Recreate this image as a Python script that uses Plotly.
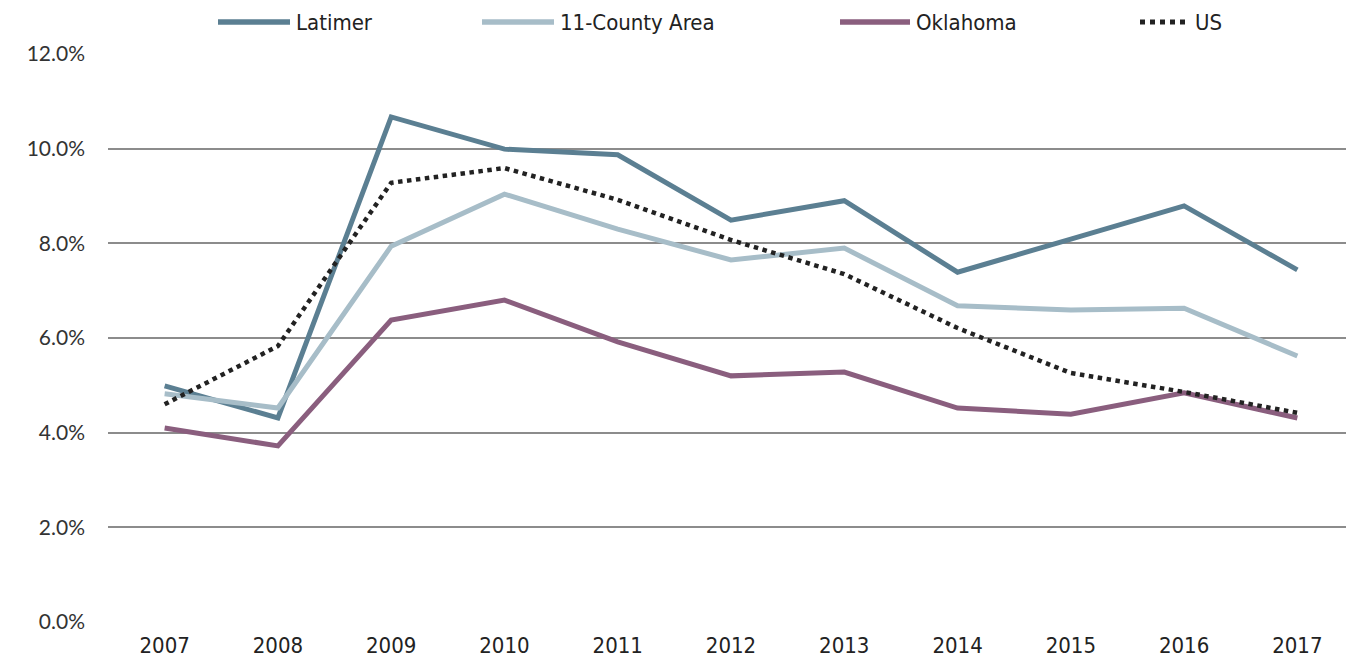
import plotly.graph_objects as go

years = ["2007", "2008", "2009", "2010", "2011", "2012", "2013", "2014", "2015", "2016", "2017"]
latimer = [4.99, 4.31, 10.67, 9.99, 9.87, 8.49, 8.90, 7.39, 8.09, 8.79, 7.44]
county11 = [4.82, 4.52, 7.94, 9.04, 8.30, 7.65, 7.90, 6.68, 6.59, 6.63, 5.62]
oklahoma = [4.10, 3.72, 6.38, 6.80, 5.92, 5.20, 5.28, 4.52, 4.39, 4.84, 4.31]
us = [4.60, 5.83, 9.28, 9.59, 8.92, 8.07, 7.35, 6.21, 5.26, 4.86, 4.42]
y_ticks = [0, 2, 4, 6, 8, 10, 12]
y_labels = ["0.0%", "2.0%", "4.0%", "6.0%", "8.0%", "10.0%", "12.0%"]

series = [
    ("Latimer", latimer, "#5b7f92", 5, "solid"),
    ("11-County Area", county11, "#a7bdc8", 5, "solid"),
    ("Oklahoma", oklahoma, "#8a5e7e", 5, "solid"),
    ("US", us, "#222222", 4.5, "dot"),
]

# page body has an 8px margin: compensate so the plot sits where the reference has it
OFF = 8
W, H = 1354 - OFF, 667 - OFF
ML, MR, MT, MB = 108 - OFF, 0, 54 - OFF, 45
PW, PH = W - ML - MR, H - MT - MB

fig = go.Figure()
for name, vals, color, width, dash in series:
    fig.add_trace(go.Scatter(x=years, y=vals, name=name, mode="lines",
                             line=dict(color=color, width=width, dash=dash),
                             showlegend=False))

# custom legend (line sample + label) in the top margin; positions in page pixels
legend_x = [218, 482, 840, 1140]
line_len = [72, 72, 70, 49]
ly = (667 - MB - 22) / PH
txt_font = "Futura, 'Century Gothic', 'DejaVu Sans Condensed', 'Liberation Sans Narrow', Lato, sans-serif"
for (name, vals, color, width, dash), lx, ll in zip(series, legend_x, line_len):
    x0 = (lx - 108) / PW
    x1 = (lx + ll - 108) / PW
    fig.add_shape(type="line", xref="paper", yref="paper", x0=x0, x1=x1, y0=ly, y1=ly,
                  line=dict(color=color, width=width + 0.5, dash=dash))
    fig.add_annotation(xref="paper", yref="paper", x=(lx + ll + 4 - 108) / PW, y=ly,
                       xanchor="left", yanchor="middle", text=name, showarrow=False,
                       font=dict(family=txt_font, size=22, color="#222222"))

fig.update_layout(
    width=W, height=H,
    margin=dict(l=ML, r=MR, t=MT, b=MB, autoexpand=False),
    plot_bgcolor="white", paper_bgcolor="white",
    font=dict(family=txt_font, size=22, color="#222222"),
    showlegend=False,
    xaxis=dict(range=[-0.5, 10.5], showgrid=False, ticks="", showline=False, zeroline=False,
               tickfont=dict(family=txt_font, size=22), ticklabelstandoff=8),
    yaxis=dict(range=[0, 12], tickvals=y_ticks, ticktext=y_labels,
               showgrid=True, gridcolor="#8c8c8c", gridwidth=2, zeroline=False,
               ticks="", tickfont=dict(family="'Century Gothic', Lato, sans-serif", size=21, color="#333333"),
               ticklabelstandoff=22),
)
fig.write_html("out.html")
